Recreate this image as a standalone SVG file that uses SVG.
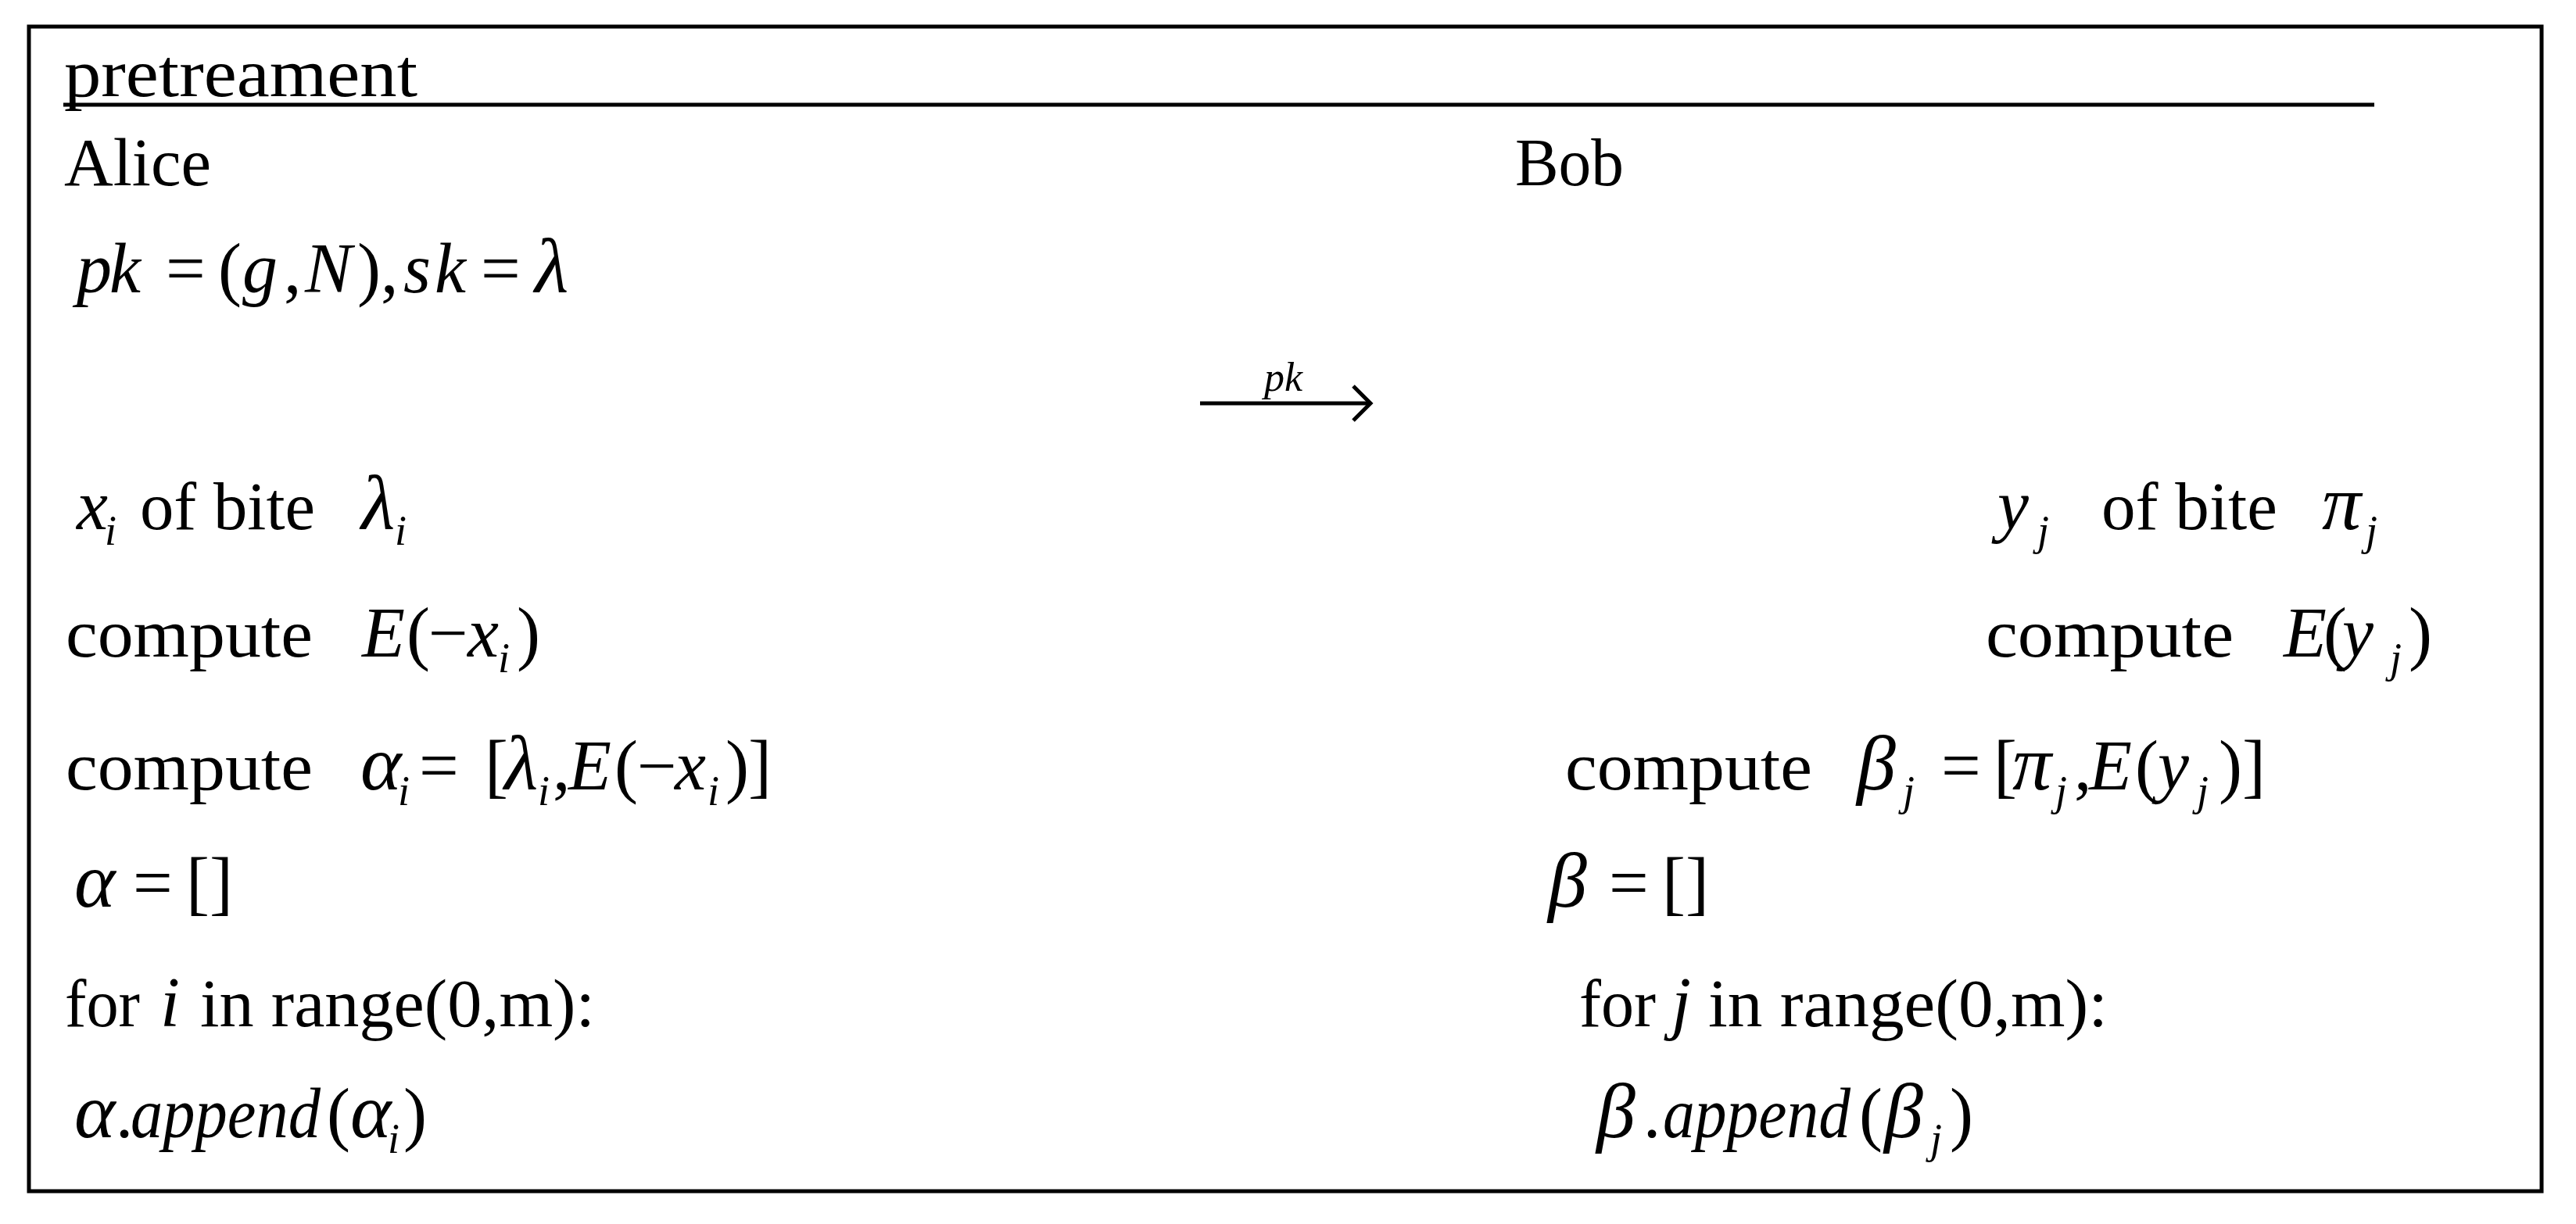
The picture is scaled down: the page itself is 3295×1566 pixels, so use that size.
<svg xmlns="http://www.w3.org/2000/svg" width="3295" height="1566" viewBox="0 0 3295 1566">
<style>
.t{font-family:"Liberation Serif","Times New Roman",serif;font-size:86px;fill:#000}
.m{font-family:"Liberation Serif","Times New Roman",serif;font-size:90px;font-style:italic;fill:#000}
.g{font-size:100px}
.r{font-style:normal}
.w{font-style:normal;font-size:86px}
.s{font-size:54px}
.ln{stroke:#000;stroke-width:5;fill:none}
</style>
<rect x="37" y="34" width="3214" height="1490" fill="#fff" stroke="#000" stroke-width="5"/>
<line class="ln" x1="81" y1="134" x2="3037" y2="134"/>
<g id="title"><text class="t" x="82" y="123" textLength="452" lengthAdjust="spacingAndGlyphs">pretreament</text></g>
<g id="alice"><text class="t" x="82" y="237" textLength="188" lengthAdjust="spacingAndGlyphs">Alice</text></g>
<g id="bob"><text class="t" x="1938" y="237" textLength="139" lengthAdjust="spacingAndGlyphs">Bob</text></g>
<g id="keys"><text class="m" y="374"><tspan x="98">p</tspan><tspan x="140">k</tspan><tspan class="r" x="212">=</tspan><tspan class="r" x="279">(</tspan><tspan x="310">g</tspan><tspan class="r" x="363">,</tspan><tspan x="390">N</tspan><tspan class="r" x="457">)</tspan><tspan class="r" x="487">,</tspan><tspan x="516">s</tspan><tspan x="556">k</tspan><tspan class="r" x="615">=</tspan><tspan class="g" x="684">λ</tspan></text></g>
<g id="connectors">
<line class="ln" x1="1535" y1="516" x2="1751" y2="516" stroke-width="4"/>
<polyline class="ln" points="1731,494 1753,516 1731,538" stroke-width="4"/>
<text class="m" x="1617" y="500" style="font-size:52px">pk</text>
</g>
<g id="alice-bits"><text class="m" y="677"><tspan x="98">x</tspan><tspan class="s" x="134" dy="20">i</tspan><tspan class="w" x="179" dy="-20" textLength="224" lengthAdjust="spacingAndGlyphs">of bite</tspan><tspan class="g" x="462">λ</tspan><tspan class="s" x="505" dy="20">i</tspan></text></g>
<g id="alice-enc"><text class="t" x="84" y="840" textLength="316" lengthAdjust="spacingAndGlyphs">compute</text><text class="m" y="840"><tspan x="463">E</tspan><tspan class="r" x="520">(</tspan><tspan class="r" x="548">−</tspan><tspan x="598">x</tspan><tspan class="s" x="637" dy="20">i</tspan><tspan class="r" x="661" dy="-20">)</tspan></text></g>
<g id="alice-alpha-i"><text class="t" x="84" y="1010" textLength="316" lengthAdjust="spacingAndGlyphs">compute</text><text class="m" y="1010"><tspan class="g" x="461">α</tspan><tspan class="s" x="509" dy="20">i</tspan><tspan class="r" x="536" dy="-20">=</tspan><tspan class="r" x="620">[</tspan><tspan class="g" x="645">λ</tspan><tspan class="s" x="688" dy="20">i</tspan><tspan class="r" x="707" dy="-20">,</tspan><tspan x="727">E</tspan><tspan class="r" x="786">(</tspan><tspan class="r" x="815">−</tspan><tspan x="863">x</tspan><tspan class="s" x="905" dy="20">i</tspan><tspan class="r" x="928" dy="-20">)</tspan><tspan class="r" x="957">]</tspan></text></g>
<g id="alice-alpha"><text class="m" y="1160"><tspan class="g" x="95">α</tspan><tspan class="r" x="170">=</tspan><tspan class="r" x="238">[]</tspan></text></g>
<g id="alice-loop"><text class="t" y="1313"><tspan x="83" textLength="96" lengthAdjust="spacingAndGlyphs">for</tspan><tspan x="205" style="font-style:italic;font-size:90px">i</tspan><tspan x="256" textLength="505" lengthAdjust="spacingAndGlyphs">in range(0,m):</tspan></text></g>
<g id="alice-append"><text class="m" y="1455"><tspan class="g" x="95">α</tspan><tspan x="150">.</tspan><tspan x="167" textLength="243" lengthAdjust="spacingAndGlyphs">append</tspan><tspan class="r" x="418">(</tspan><tspan class="g" x="448">α</tspan><tspan class="s" x="496" dy="20">i</tspan><tspan class="r" x="516" dy="-20">)</tspan></text></g>
<g id="bob-bits"><text class="m" y="677"><tspan x="2555">y</tspan><tspan class="s" x="2606" dy="20">j</tspan><tspan class="w" x="2688" dy="-20" textLength="225" lengthAdjust="spacingAndGlyphs">of bite</tspan><tspan class="g" x="2970">π</tspan><tspan class="s" x="3026" dy="20">j</tspan></text></g>
<g id="bob-enc"><text class="t" x="2540" y="840" textLength="317" lengthAdjust="spacingAndGlyphs">compute</text><text class="m" y="840"><tspan x="2921">E</tspan><tspan class="r" x="2972">(</tspan><tspan x="2996">y</tspan><tspan class="s" x="3057" dy="20">j</tspan><tspan class="r" x="3081" dy="-20">)</tspan></text></g>
<g id="bob-beta-j"><text class="t" x="2002" y="1010" textLength="316" lengthAdjust="spacingAndGlyphs">compute</text><text class="m" y="1010"><tspan class="g" x="2375">β</tspan><tspan class="s" x="2434" dy="20">j</tspan><tspan class="r" x="2483" dy="-20">=</tspan><tspan class="r" x="2550">[</tspan><tspan class="g" x="2574">π</tspan><tspan class="s" x="2629" dy="20">j</tspan><tspan class="r" x="2653" dy="-20">,</tspan><tspan x="2672">E</tspan><tspan class="r" x="2731">(</tspan><tspan x="2760">y</tspan><tspan class="s" x="2810" dy="20">j</tspan><tspan class="r" x="2838" dy="-20">)</tspan><tspan class="r" x="2868">]</tspan></text></g>
<g id="bob-beta"><text class="m" y="1160"><tspan class="g" x="1980">β</tspan><tspan class="r" x="2058">=</tspan><tspan class="r" x="2126">[]</tspan></text></g>
<g id="bob-loop"><text class="t" y="1313"><tspan x="2020" textLength="98" lengthAdjust="spacingAndGlyphs">for</tspan><tspan x="2138" style="font-style:italic;font-size:90px">j</tspan><tspan x="2185" textLength="511" lengthAdjust="spacingAndGlyphs">in range(0,m):</tspan></text></g>
<g id="bob-append"><text class="m" y="1455"><tspan class="g" x="2042">β</tspan><tspan x="2104">.</tspan><tspan x="2127" textLength="240" lengthAdjust="spacingAndGlyphs">append</tspan><tspan class="r" x="2378">(</tspan><tspan class="g" x="2410">β</tspan><tspan class="s" x="2469" dy="20">j</tspan><tspan class="r" x="2494" dy="-20">)</tspan></text></g>
</svg>
